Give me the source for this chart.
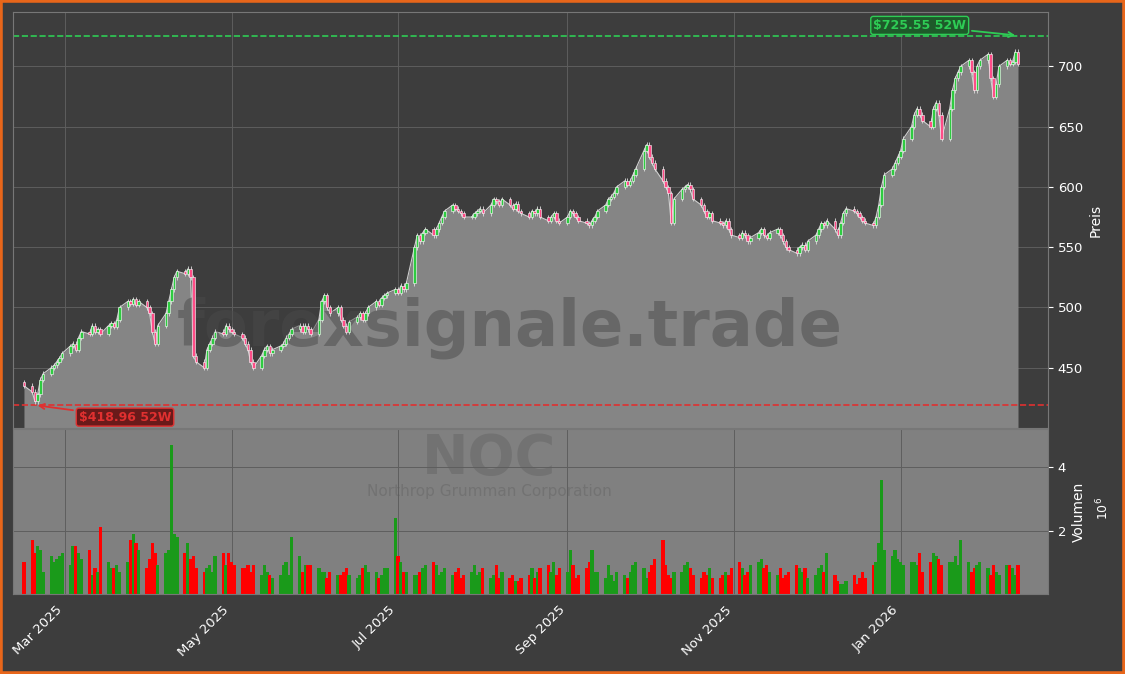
import numpy as np, pandas as pd, matplotlib
matplotlib.use("Agg")
import matplotlib.pyplot as plt, seaborn as sns, matplotlib.dates as mdates

close_months = [
 [435,430,422,428,440,445,450,452,455,458],
 [462,468,470,465,475,480,478,485,480,482,478,485,487,484,490,500,505,503,507,502,505],
 [500,495,480,470,485,495,505,515,525,530,528,532,525,460,455,450,465,470,475,480,478],
 [485,482,480,478,475,470,465,455,450,460,465,468,462,465,468,470,475,478,482,485,480],
 [485,482,478,490,505,510,500,495,500,490,485,480,488,492,495,490,495,500,505,502,508],
 [510,512,515,512,518,515,520,550,560,555,562,565,560,565,570,575,580,585,582,580,578,575],
 [575,578,580,582,578,585,590,588,585,590,585,582,586,580,578,575,580,578,582,575,572],
 [575,578,572,570,575,580,578,575,572,570,568,572,575,580,585,590,592,595,600,605,602],
 [605,610,615,630,635,625,620,615,605,600,595,570,590,598,600,602,598,590,585,580,575,578,572],
 [570,568,572,565,560,558,562,560,555,558,562,565,560,558,562,565,560,555,550],
 [548,545,550,552,548,555,560,565,570,568,572,565,560,570,578,582,580,578,575,572,570,568],
 [575,585,600,610,615,620,625,630,640,650,660,665,660,655,650,665,670,660,640,665],
 [680,690,695,700,705,695,680,700,705,710,690,675,685,700,705,702,704,712,702],
]
vol_months = [
 [1.0,1.7,1.3,1.5,1.4,0.7,1.2,1.0,1.1,1.2],
 [1.3,0.9,1.5,1.5,1.3,1.1,1.4,0.6,0.8,0.7,2.1,1.0,0.8,0.8,0.9,0.7,1.0,1.7,1.9,1.6,1.4],
 [0.8,1.1,1.6,1.3,0.9,1.3,1.4,4.7,1.9,1.8,1.3,1.6,1.1,1.2,0.8,0.7,0.8,0.9,0.7,1.2,1.3],
 [0.9,1.3,1.0,0.9,0.8,0.8,0.9,0.7,0.9,0.6,0.9,0.7,0.6,0.5,0.6,0.9,1.0,0.6,1.8,1.2,0.7],
 [0.9,0.9,0.9,0.8,0.7,0.7,0.5,0.7,0.6,0.6,0.7,0.8,0.6,0.5,0.6,0.8,0.9,0.7,0.7,0.5,0.6],
 [0.8,0.8,2.4,1.2,1.0,0.7,0.7,0.6,0.6,0.7,0.8,0.9,1.0,0.9,0.6,0.7,0.8,0.6,0.7,0.8,0.5,0.6],
 [0.7,0.9,0.6,0.7,0.8,0.5,0.6,0.9,0.5,0.7,0.5,0.6,0.4,0.4,0.5,0.6,0.8,0.5,0.7,0.8,0.9],
 [0.7,1.0,0.6,0.8,0.7,1.4,0.9,0.5,0.6,0.8,1.0,1.4,0.7,0.7,0.5,0.9,0.6,0.4,0.7,0.6,0.5],
 [0.7,0.9,1.0,0.8,0.5,0.7,0.9,1.1,1.7,0.9,0.6,0.5,0.7,0.7,0.9,1.0,0.8,0.6,0.5,0.7,0.6,0.8,0.5],
 [0.5,0.6,0.7,0.6,0.8,1.0,0.8,0.6,0.7,0.9,1.0,1.1,0.8,0.9,0.7,0.6,0.8,0.5,0.6],
 [0.7,0.9,0.8,0.7,0.8,0.5,0.6,0.8,0.9,0.7,1.3,0.6,0.4,0.3,0.3,0.4,0.6,0.3,0.5,0.7,0.5,0.9],
 [1.0,1.6,3.6,1.4,1.2,1.4,1.1,1.0,0.9,1.0,1.0,0.9,1.3,0.7,1.0,1.3,1.2,1.1,0.9,1.0],
 [1.0,1.2,0.9,1.7,1.0,0.7,0.8,0.9,1.0,0.8,0.6,0.9,0.7,0.6,0.9,0.9,0.8,0.6,0.9],
]
high_52w = 725.55
low_52w = 418.96

closes = [c for m in close_months for c in m]
vols = [v for m in vol_months for v in m]
n = min(len(closes), len(vols))
closes, vols = np.array(closes[:n], float), np.array(vols[:n], float)
opens = np.concatenate([[closes[0] + 3], closes[:-1]])
dates = pd.bdate_range("2025-02-14", periods=n)
df = pd.DataFrame({"date": dates, "close": closes, "open": opens, "vol": vols})
x = mdates.date2num(dates)

sns.set_style("dark")
BG = "#3d3d3d"
fig = plt.figure(figsize=(11.25, 6.74), dpi=100, facecolor=BG)
fig.patches.append(plt.Rectangle((0, 0), 1, 1, transform=fig.transFigure, fill=False,
                                  edgecolor="#e8661a", linewidth=4))
ax = fig.add_axes([0.0116, 0.365, 0.92, 0.617], facecolor=BG)
axv = fig.add_axes([0.0116, 0.119, 0.92, 0.244], facecolor="#808080", sharex=ax)

for a in (ax, axv):
    a.grid(True, color="#5e5e5e", linewidth=0.7)
    a.yaxis.tick_right(); a.yaxis.set_label_position("right")
    a.tick_params(colors="white", labelsize=9.5)
    for s in a.spines.values(): s.set_color("#777777")

ax.fill_between(x, closes, 400, color="#858585", zorder=1, linewidth=0)
sns.lineplot(data=df, x="date", y="close", ax=ax, color="#cfcfcf", linewidth=0.8, zorder=2)
up = closes >= opens
bottoms = np.minimum(opens, closes); heights = np.maximum(np.abs(closes - opens), 0.8)
ax.vlines(x, bottoms - 2, bottoms + heights + 2, color="#dddddd", linewidth=0.6, zorder=3)
ax.bar(x, heights, bottom=bottoms, width=0.9, color=np.where(up, "#2ecc40", "#ff4d88"),
       edgecolor="white", linewidth=0.4, zorder=4)
ax.axhline(high_52w, color="#2ecc55", ls="--", lw=1.2)
ax.axhline(low_52w, color="#e03030", ls="--", lw=1.2)
ax.annotate(f"${high_52w} 52W", xy=(x[-1], high_52w), xytext=(x[-1] - 36, 734),
            color="#2ecc55", fontsize=9, fontweight="bold", ha="center", va="center",
            bbox=dict(boxstyle="round,pad=0.2", fc="#1e5a2a", ec="#2ecc55"),
            arrowprops=dict(arrowstyle="->", color="#2ecc55", lw=1.3))
ax.annotate(f"${low_52w} 52W", xy=(x[2], low_52w), xytext=(x[2] + 33, 409),
            color="#e03030", fontsize=9, fontweight="bold", ha="center", va="center",
            bbox=dict(boxstyle="round,pad=0.2", fc="#6a1a1a", ec="#e03030"),
            arrowprops=dict(arrowstyle="->", color="#e03030", lw=1.3))
ax.set_ylim(400, 745)
ax.set_yticks([450, 500, 550, 600, 650, 700])
ax.set_ylabel("Preis", color="white")
ax.set_xlabel("")
ax.text(0.48, 0.24, "forexsignale.trade", transform=ax.transAxes, ha="center", va="center",
        fontsize=46, fontweight="bold", color="#4a4a4a", alpha=0.5, zorder=2.5)
plt.setp(ax.get_xticklabels(), visible=False)

axv.bar(x, vols, width=1.2, color=np.where(up, "#1a9a1a", "#ff0000"), linewidth=0)
axv.set_ylim(0, 5.2)
axv.set_yticks([2, 4])
axv.set_ylabel("Volumen", color="white")
axv.text(1.045, 0.52, "10$^6$", transform=axv.transAxes, color="white", rotation=90,
         fontsize=9, va="center")
axv.text(0.46, 0.82, "NOC", transform=axv.transAxes, ha="center", va="center",
         fontsize=40, fontweight="bold", color="#727272", zorder=0.5)
axv.text(0.46, 0.62, "Northrop Grumman Corporation", transform=axv.transAxes, ha="center",
         va="center", fontsize=11, color="#727272", zorder=0.5)
axv.set_xlim(mdates.date2num(pd.Timestamp("2025-02-10")), mdates.date2num(pd.Timestamp("2026-02-24")))
axv.xaxis.set_major_locator(mdates.MonthLocator(bymonth=[1, 3, 5, 7, 9, 11]))
axv.xaxis.set_major_formatter(mdates.DateFormatter("%b %Y"))
plt.setp(axv.get_xticklabels(), rotation=45, ha="right")
fig.savefig("out.png", dpi=100, facecolor=BG)
